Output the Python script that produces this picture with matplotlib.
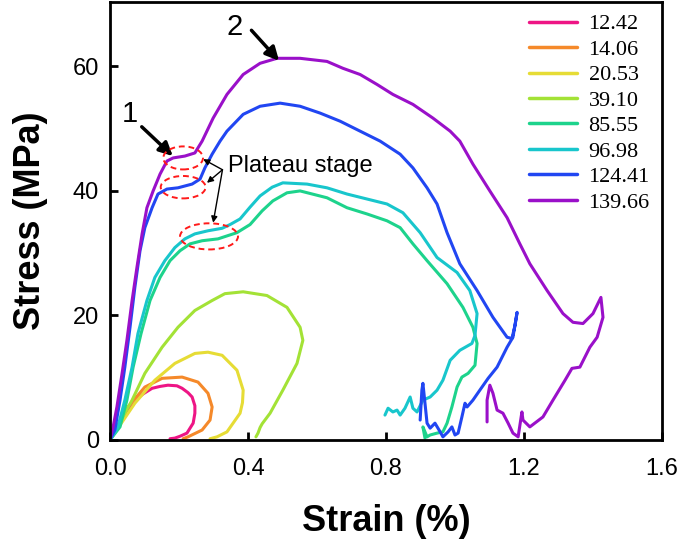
import matplotlib.pyplot as plt
from matplotlib.patches import Ellipse

# ── Data (strain %, stress MPa) ─────────────────────────────────────────────
labels = ["12.42", "14.06", "20.53", "39.10", "85.55", "96.98", "124.41", "139.66"]
colors = ["#EE1585", "#F5892A", "#E6DC35", "#A3E236", "#1DD38C", "#18C6CC", "#2146F2", "#9A10C9"]

strain_1242 = [0, 0.025, 0.049, 0.072, 0.096, 0.122, 0.145, 0.168, 0.194, 0.209,
               0.226, 0.238, 0.246, 0.246, 0.241, 0.232, 0.223, 0.203, 0.188, 0.174]
stress_1242 = [0, 2.2, 4.3, 6.4, 7.4, 8.3, 8.6, 8.8, 8.7, 8.3,
               7.6, 6.9, 5.5, 4.3, 2.7, 1.9, 1.1, 0.6, 0.3, 0.2]

strain_1406 = [0, 0.025, 0.052, 0.101, 0.151, 0.209, 0.255, 0.284, 0.296, 0.290,
               0.267, 0.226, 0.212]
stress_1406 = [0, 2.6, 5.3, 8.5, 9.9, 10.1, 9.3, 7.5, 5.3, 3.2,
               1.6, 0.5, 0.2]

strain_2053 = [0, 0.072, 0.130, 0.188, 0.246, 0.284, 0.325, 0.368, 0.386, 0.384,
               0.377, 0.339, 0.310, 0.290]
stress_2053 = [0, 5.9, 9.6, 12.3, 13.9, 14.1, 13.6, 11.2, 8.0, 6.0,
               4.3, 1.3, 0.5, 0.2]

strain_3910 = [0, 0.064, 0.101, 0.151, 0.197, 0.246, 0.296, 0.333, 0.386, 0.455,
               0.513, 0.551, 0.559, 0.542, 0.501, 0.464, 0.441, 0.435, 0.429, 0.423]
stress_3910 = [0, 6.4, 10.7, 14.9, 18.1, 20.8, 22.4, 23.5, 23.8, 23.2,
               21.3, 18.1, 16.0, 12.3, 8.0, 4.3, 2.6, 2.0, 1.1, 0.5]

strain_8555 = [0, 0.029, 0.049, 0.067, 0.090, 0.116, 0.145, 0.174, 0.203, 0.232,
               0.267, 0.313, 0.368, 0.406, 0.441, 0.472, 0.513, 0.551, 0.629, 0.687,
               0.745, 0.803, 0.841, 0.878, 0.919, 0.977, 1.023, 1.052, 1.064, 1.058,
               1.038, 1.020, 1.006, 0.991, 0.977, 0.965, 0.948, 0.928, 0.919, 0.907,
               0.913]
stress_8555 = [0, 2.1, 6.4, 11.7, 17.1, 22.4, 26.1, 28.8, 30.4, 31.5,
               32.0, 32.3, 33.3, 34.6, 36.8, 38.4, 39.7, 40.0, 38.9, 37.3,
               36.3, 35.2, 34.1, 31.5, 28.8, 25.1, 21.3, 18.1, 15.5, 12.0,
               10.7, 10.1, 8.5, 5.3, 2.7, 1.3, 1.1, 0.8, 0.5, 2.1,
               0.3]

strain_9698 = [0, 0.023, 0.043, 0.064, 0.081, 0.107, 0.130, 0.159, 0.188, 0.217,
               0.246, 0.284, 0.325, 0.348, 0.377, 0.406, 0.435, 0.470, 0.501, 0.571,
               0.629, 0.687, 0.745, 0.803, 0.849, 0.899, 0.948, 1.006, 1.043, 1.064,
               1.058, 1.049, 1.014, 0.986, 0.965, 0.948, 0.928, 0.907, 0.890, 0.878,
               0.870, 0.855, 0.841, 0.832, 0.820, 0.806, 0.797]
stress_9698 = [0, 2.1, 6.4, 11.7, 17.1, 22.4, 26.1, 28.8, 30.9, 32.3,
               33.1, 33.6, 34.0, 34.6, 35.5, 37.4, 39.2, 40.6, 41.3, 41.1,
               40.5, 39.5, 38.7, 37.9, 36.5, 33.3, 29.3, 26.9, 24.0, 20.3,
               16.8, 15.5, 14.4, 12.8, 9.6, 8.0, 6.9, 6.4, 4.5, 5.1,
               6.9, 5.1, 4.0, 4.8, 4.5, 5.1, 4.0]

strain_12441 = [0, 0.014, 0.029, 0.043, 0.058, 0.072, 0.087, 0.101, 0.122, 0.139,
                0.165, 0.197, 0.238, 0.261, 0.275, 0.296, 0.319, 0.339, 0.386, 0.435,
                0.493, 0.551, 0.609, 0.667, 0.725, 0.783, 0.841, 0.878, 0.919, 0.948,
                0.977, 1.014, 1.064, 1.110, 1.151, 1.165, 1.174, 1.180, 1.168, 1.151,
                1.122, 1.096, 1.072, 1.052, 1.035, 1.029, 1.020, 1.009, 1.000, 0.991,
                0.980, 0.965, 0.957, 0.942, 0.928, 0.919, 0.907, 0.904, 0.899]
stress_12441 = [0, 1.6, 6.4, 11.7, 18.1, 24.5, 30.4, 34.1, 37.3, 39.5,
                40.3, 40.5, 41.1, 41.9, 43.7, 45.9, 48.0, 49.6, 52.3, 53.6,
                54.1, 53.6, 52.5, 51.2, 49.6, 48.0, 45.9, 43.7, 40.5, 37.9,
                33.3, 28.3, 24.0, 19.7, 16.5, 16.3, 18.4, 20.5, 16.5, 14.9,
                11.7, 9.9, 8.0, 6.4, 5.3, 5.9, 3.7, 1.1, 0.8, 2.1,
                1.3, 0.5, 1.3, 2.7, 1.9, 2.7, 9.1, 8.0, 3.2]

strain_13966 = [0, 0.009, 0.020, 0.035, 0.049, 0.064, 0.078, 0.093, 0.107, 0.125,
                0.145, 0.165, 0.183, 0.217, 0.246, 0.267, 0.299, 0.339, 0.386, 0.435,
                0.484, 0.551, 0.629, 0.675, 0.725, 0.774, 0.820, 0.878, 0.936, 0.986,
                1.014, 1.052, 1.101, 1.151, 1.188, 1.217, 1.267, 1.313, 1.342, 1.371,
                1.400, 1.423, 1.429, 1.412, 1.391, 1.362, 1.339, 1.319, 1.284, 1.255,
                1.217, 1.197, 1.194, 1.183, 1.168, 1.154, 1.139, 1.122, 1.110, 1.101,
                1.093, 1.093]
stress_13966 = [0, 2.1, 5.3, 10.7, 16.0, 22.4, 27.7, 33.1, 37.3, 40.0,
                42.7, 44.8, 45.3, 45.6, 46.1, 48.0, 51.7, 55.5, 58.7, 60.5,
                61.3, 61.3, 60.8, 59.7, 58.7, 57.1, 55.5, 53.9, 51.7, 49.6,
                48.0, 44.3, 40.0, 35.7, 31.5, 28.3, 24.0, 20.3, 18.9, 18.7,
                20.3, 22.9, 19.7, 16.5, 14.9, 11.7, 11.5, 9.6, 6.4, 3.7,
                2.1, 3.2, 4.5, 0.5, 1.1, 2.7, 4.3, 4.8, 7.5, 8.8,
                6.4, 2.9]

curves = [
    (strain_1242, stress_1242), (strain_1406, stress_1406),
    (strain_2053, stress_2053), (strain_3910, stress_3910),
    (strain_8555, stress_8555), (strain_9698, stress_9698),
    (strain_12441, stress_12441), (strain_13966, stress_13966),
]

# plateau marks: centre strain, centre stress, width, height
plateau_x = [0.212, 0.212, 0.287]
plateau_y = [45.3, 40.6, 32.7]
plateau_w = [0.115, 0.130, 0.168]
plateau_h = [3.7, 3.6, 4.2]
# arrow heads from the "Plateau stage" label
plateau_tip_x = [0.270, 0.281, 0.299]
plateau_tip_y = [45.1, 41.3, 34.9]

# ── Plot ──────────────────────────────────────────────────────────────────────
plt.rcParams["font.family"] = ["Liberation Sans", "DejaVu Sans"]

fig = plt.figure(figsize=(6.85, 5.51), dpi=100)
ax = fig.add_axes([0.1606, 0.2015, 0.8058, 0.7955])

for (sx, sy), lab, col in zip(curves, labels, colors):
    ax.plot(sx, sy, color=col, lw=2.2, label=lab,
            solid_joinstyle="round", solid_capstyle="round")

for cx, cy, w, h in zip(plateau_x, plateau_y, plateau_w, plateau_h):
    ax.add_patch(Ellipse((cx, cy), w, h, fill=False, ec="#FF1A1A",
                         ls=(0, (3, 2)), lw=1.4, zorder=5))

ax.text(0.342, 44.0, "Plateau stage", fontsize=17, va="center", ha="left")
for tx, ty in zip(plateau_tip_x, plateau_tip_y):
    ax.annotate("", xy=(tx, ty), xytext=(0.326, 43.4),
                arrowprops=dict(arrowstyle="-|>", color="black", lw=1.0,
                                mutation_scale=9, shrinkA=0, shrinkB=0))

ax.text(0.058, 52.3, "1", fontsize=21, ha="center", va="center")
ax.annotate("", xy=(0.182, 45.6), xytext=(0.092, 50.3),
            arrowprops=dict(arrowstyle="-|>", color="black", lw=2.5,
                            mutation_scale=20, shrinkA=0, shrinkB=0))
ax.text(0.362, 66.4, "2", fontsize=21, ha="center", va="center")
ax.annotate("", xy=(0.490, 60.9), xytext=(0.410, 65.8),
            arrowprops=dict(arrowstyle="-|>", color="black", lw=2.5,
                            mutation_scale=20, shrinkA=0, shrinkB=0))

ax.set_xlim(0, 1.6)
ax.set_ylim(0, 70.4)
ax.set_xticks([0.0, 0.4, 0.8, 1.2, 1.6])
ax.set_yticks([0, 20, 40, 60])
ax.xaxis.set_major_formatter(plt.FormatStrFormatter("%.1f"))
ax.tick_params(direction="in", length=6, width=2, labelsize=17)
ax.tick_params(axis="x", pad=13)
ax.tick_params(axis="y", pad=8)
for sp in ax.spines.values():
    sp.set_linewidth(2)

ax.set_xlabel("Strain (%)", fontsize=26, fontweight="bold", labelpad=17)
ax.set_ylabel("Stress (MPa)", fontsize=26, fontweight="bold", labelpad=18)

leg = ax.legend(loc="upper right", frameon=False, handlelength=2.2,
                handletextpad=0.5, labelspacing=0.22, borderaxespad=0.15,
                prop={"family": ["Liberation Serif", "DejaVu Serif"], "size": 16})
for line in leg.get_lines():
    line.set_linewidth(2.5)

fig.savefig("out.png", dpi=100)
